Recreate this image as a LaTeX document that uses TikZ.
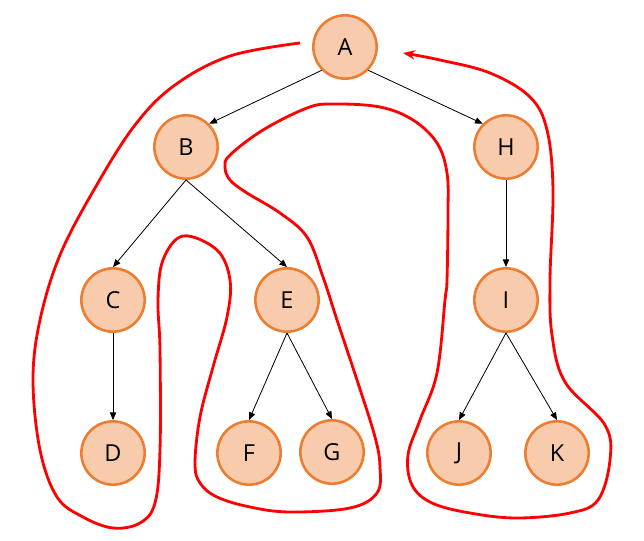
\documentclass[tikz,border=0pt]{standalone}
\usepackage{fontspec}
\setmainfont{Open Sans}
\usetikzlibrary{arrows.meta}
\definecolor{knotfill}{HTML}{F8CBAD}
\definecolor{knotline}{HTML}{ED7D31}
\begin{document}
\begin{tikzpicture}[x=0.03cm, y=-0.03cm]
    \useasboundingbox (0,0) rectangle (644,541);

    % Stijlen
    \tikzset{knot/.style={circle, draw=knotline, fill=knotfill, line width=2.2pt,
                          minimum size=1.9cm, inner sep=0pt,
                          font=\fontsize{20}{24}\selectfont},
             link/.style={-{Triangle[length=2.3mm,width=1.9mm]}, line width=0.7pt},
             walk/.style={red, line width=2.4pt, -{Stealth[length=3.6mm,width=2.8mm]}}}

    % Knopen
    \node[knot] (A) at (345,47)  {A};
    \node[knot] (B) at (186,147) {B};
    \node[knot] (H) at (506,147) {H};
    \node[knot] (C) at (113,300) {C};
    \node[knot] (E) at (287,300) {E};
    \node[knot] (I) at (506,300) {I};
    \node[knot] (D) at (113,453) {D};
    \node[knot] (F) at (249,453) {F};
    \node[knot] (G) at (332,452) {G};
    \node[knot] (J) at (459,453) {J};
    \node[knot] (K) at (557,453) {K};

    % Takken
    \draw[link] (A.south west) -- (B.north east);
    \draw[link] (A.south east) -- (H.north west);
    \draw[link] (B.south) -- (C.north);
    \draw[link] (B.south) -- (E.north);
    \draw[link] (C.south) -- (D.north);
    \draw[link] (E.south) -- (F.north);
    \draw[link] (E.south) -- (G.north);
    \draw[link] (H.south) -- (I.north);
    \draw[link] (I.south) -- (J.north);
    \draw[link] (I.south) -- (K.north);

    % Rondgang
    \draw[walk] plot[smooth, tension=0.6] coordinates {
        (300,43) (230,56) (175,85) (135,125) (95,188) (60,255) (40,320)
        (33,380) (40,450) (57,497) (83,517) (113,528) (140,523) (155,503)
        (160,450) (160,350) (158,300) (163,260) (183,236) (217,250) (230,280)
        (227,317) (213,367) (200,417) (195,463) (200,483) (217,497) (250,507)
        (290,512) (350,508) (377,493) (380,467) (375,437) (357,380) (337,320)
        (323,277) (307,237) (280,213) (247,193) (230,180) (225,167) (230,155)
        (263,130) (307,108) (333,104) (380,107) (413,120) (437,143) (447,173)
        (448,213) (447,280) (445,300) (437,373) (420,420) (408,455) (412,485)
        (432,503) (470,513) (517,518) (570,513) (598,500) (610,460) (605,425)
        (565,382) (552,335) (550,280) (553,190) (547,130) (530,97) (490,73)
        (440,60) (403,53)};
\end{tikzpicture}
\end{document}
